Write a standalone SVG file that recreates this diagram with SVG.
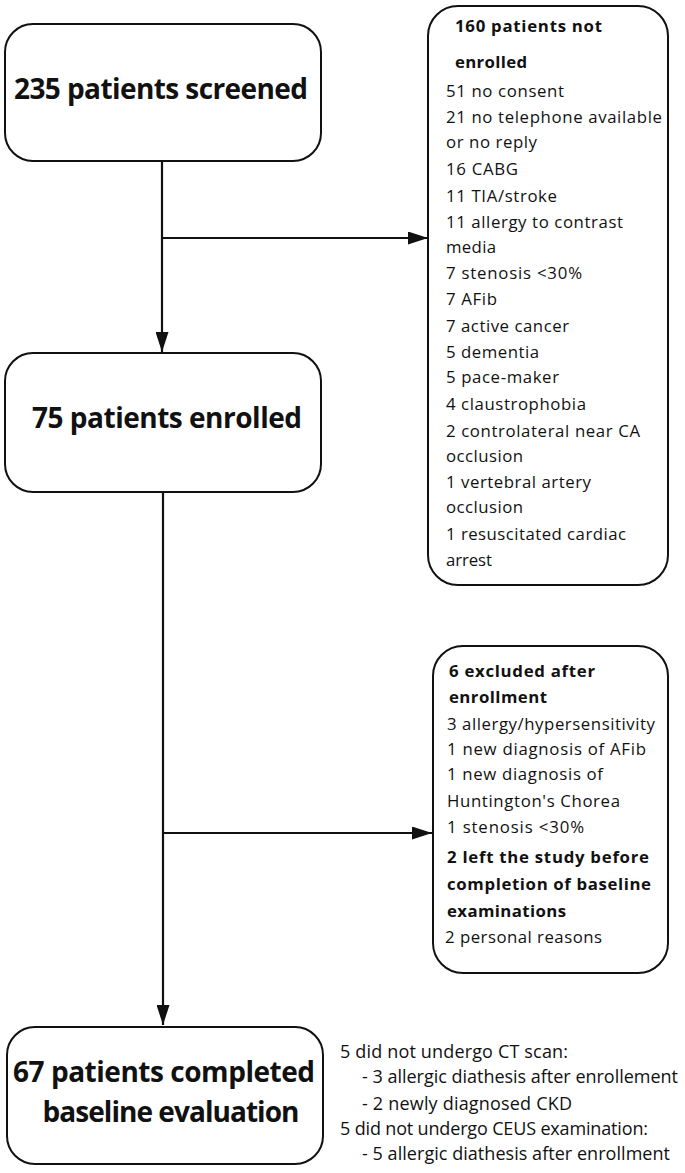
<svg xmlns="http://www.w3.org/2000/svg" width="685" height="1173" viewBox="0 0 685 1173">
<style>
.box{fill:#fff;stroke:#111;stroke-width:2}
.big{font-family:"Open Sans","Liberation Sans",sans-serif;font-weight:bold;font-size:28px;fill:#111}
.t{font-family:"Open Sans","Liberation Sans",sans-serif;font-size:16.8px;fill:#111}
.b{font-family:"Open Sans","Liberation Sans",sans-serif;font-size:16.8px;font-weight:bold;fill:#111}
.note{font-family:"Open Sans","Liberation Sans",sans-serif;font-size:18px;fill:#111}
.ln{stroke:#111;stroke-width:2.2;fill:none}
</style>
<defs>
<marker id="ah" viewBox="0 0 20 13" refX="20" refY="6.5" markerWidth="20" markerHeight="13" markerUnits="userSpaceOnUse" orient="auto">
<path d="M0,0 L20,6.5 L0,13 Z" fill="#111"/>
</marker>
</defs>
<rect width="685" height="1173" fill="#fff"/>
<g id="connectors">
<path class="ln" d="M162,161 V352" marker-end="url(#ah)"/>
<path class="ln" d="M162,238 H428" marker-end="url(#ah)"/>
<path class="ln" d="M163,492 V1025" marker-end="url(#ah)"/>
<path class="ln" d="M163,833 H432" marker-end="url(#ah)"/>
</g>
<g id="screened">
<rect class="box" x="5" y="24" width="316" height="137" rx="28"/>
<text class="big" x="161" y="99" text-anchor="middle" textLength="294">235 patients screened</text>
</g>
<g id="enrolled">
<rect class="box" x="5" y="353" width="316" height="139" rx="28"/>
<text class="big" x="167" y="428" text-anchor="middle" textLength="270">75 patients enrolled</text>
</g>
<g id="completed">
<rect class="box" x="7" y="1027" width="316" height="137" rx="28"/>
<text class="big" x="164" y="1082" text-anchor="middle" textLength="302">67 patients completed</text>
<text class="big" x="171" y="1122" text-anchor="middle" textLength="257">baseline evaluation</text>
</g>
<g id="not-enrolled">
<rect class="box" x="428" y="6" width="240" height="579" rx="30"/>
<text class="b" x="455" y="32" textLength="147">160 patients not</text>
<text class="b" x="455" y="68" textLength="72">enrolled</text>
<text class="t" x="446" y="97" textLength="118">51 no consent</text>
<text class="t" x="446" y="123" textLength="216">21 no telephone available</text>
<text class="t" x="446" y="148" textLength="91">or no reply</text>
<text class="t" x="446" y="175" textLength="72">16 CABG</text>
<text class="t" x="446" y="202" textLength="111">11 TIA/stroke</text>
<text class="t" x="446" y="228" textLength="177">11 allergy to contrast</text>
<text class="t" x="446" y="253" textLength="50">media</text>
<text class="t" x="446" y="279" textLength="136">7 stenosis &lt;30%</text>
<text class="t" x="446" y="305" textLength="51">7 AFib</text>
<text class="t" x="446" y="332" textLength="123">7 active cancer</text>
<text class="t" x="446" y="358" textLength="93">5 dementia</text>
<text class="t" x="446" y="383" textLength="113">5 pace-maker</text>
<text class="t" x="446" y="410" textLength="140">4 claustrophobia</text>
<text class="t" x="446" y="437" textLength="194">2 controlateral near CA</text>
<text class="t" x="446" y="462" textLength="77">occlusion</text>
<text class="t" x="446" y="488" textLength="145">1 vertebral artery</text>
<text class="t" x="446" y="513" textLength="77">occlusion</text>
<text class="t" x="446" y="540" textLength="180">1 resuscitated cardiac</text>
<text class="t" x="446" y="566" textLength="46">arrest</text>
</g>
<g id="excluded">
<rect class="box" x="433" y="646" width="235" height="327" rx="30"/>
<text class="b" x="449" y="677" textLength="146">6 excluded after</text>
<text class="b" x="449" y="703" textLength="98">enrollment</text>
<text class="t" x="447" y="730" textLength="208">3 allergy/hypersensitivity</text>
<text class="t" x="447" y="755" textLength="199">1 new diagnosis of AFib</text>
<text class="t" x="447" y="780" textLength="156">1 new diagnosis of</text>
<text class="t" x="447" y="807" textLength="173">Huntington's Chorea</text>
<text class="t" x="447" y="833" textLength="137">1 stenosis &lt;30%</text>
<text class="b" x="447" y="863" textLength="202">2 left the study before</text>
<text class="b" x="447" y="890" textLength="204">completion of baseline</text>
<text class="b" x="447" y="917" textLength="119">examinations</text>
<text class="t" x="445" y="943" textLength="157">2 personal reasons</text>
</g>
<g id="baseline-notes">
<text class="note" x="340" y="1058" textLength="228">5 did not undergo CT scan:</text>
<text class="note" x="362" y="1083" textLength="316">- 3 allergic diathesis after enrollement</text>
<text class="note" x="362" y="1110" textLength="210">- 2 newly diagnosed CKD</text>
<text class="note" x="340" y="1135" textLength="308">5 did not undergo CEUS examination:</text>
<text class="note" x="362" y="1160" textLength="308">- 5 allergic diathesis after enrollment</text>
</g>
</svg>
